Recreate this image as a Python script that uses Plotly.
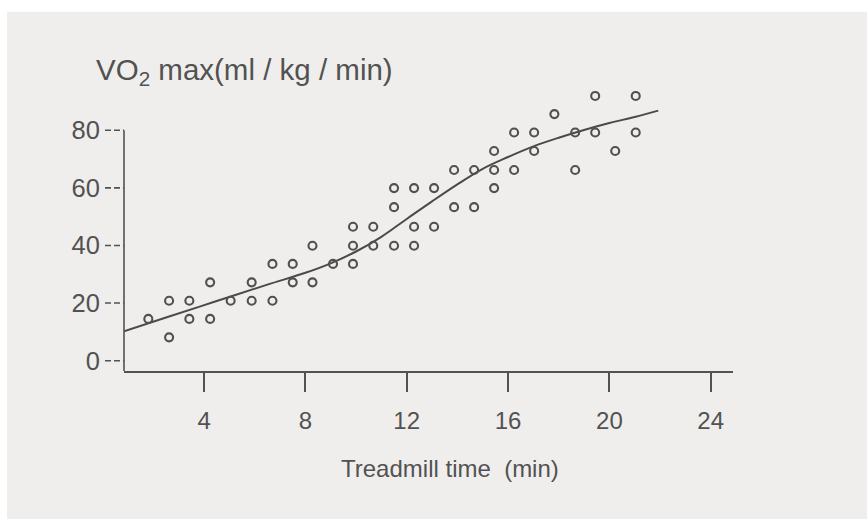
import plotly.graph_objects as go

# Observed treadmill time (min) and VO2 max (ml/kg/min), one entry per subject
time_min = [1.80,
            2.62, 2.62,
            3.42, 3.42,
            4.24, 4.24,
            5.05,
            5.88, 5.88,
            6.70, 6.70,
            7.50, 7.50,
            8.28, 8.28,
            9.09,
            9.88, 9.88, 9.88,
            10.68, 10.68,
            11.50, 11.50, 11.50,
            12.29, 12.29, 12.29,
            13.08, 13.08,
            13.87, 13.87,
            14.66, 14.66,
            15.45, 15.45, 15.45,
            16.24, 16.24,
            17.03, 17.03,
            17.83,
            18.65, 18.65,
            19.44, 19.44,
            20.23,
            21.04, 21.04]
vo2max = [14.5,
          20.8, 8.1,
          20.8, 14.5,
          27.2, 14.5,
          20.8,
          27.2, 20.8,
          33.6, 20.8,
          33.6, 27.2,
          39.9, 27.2,
          33.6,
          46.5, 39.9, 33.6,
          46.5, 39.9,
          59.9, 53.3, 39.9,
          59.9, 46.5, 39.9,
          59.9, 46.5,
          66.2, 53.3,
          66.2, 53.3,
          72.8, 66.2, 59.9,
          79.2, 66.2,
          79.2, 72.8,
          85.6,
          79.2, 66.2,
          91.9, 79.2,
          72.8,
          91.9, 79.2]

# Smoothed trend curve
trend_x = [0.84, 2.5, 4.5, 6.5, 8.0, 9.0, 10.0, 11.0, 12.0, 13.0, 14.0,
           15.0, 16.0, 17.0, 18.0, 19.0, 20.0, 21.0, 21.93]
trend_y = [10.2, 15.0, 20.7, 26.4, 30.5, 33.8, 37.9, 43.0, 49.2, 55.3, 61.2,
           66.6, 70.7, 74.4, 77.4, 80.1, 82.5, 84.6, 86.8]

x_ticks = [4, 8, 12, 16, 20, 24]
y_ticks = [0, 20, 40, 60, 80]

X_RANGE = [0.84, 24.88]
Y_RANGE = [-3.58, 95]
INK = "#525252"
PAPER = "#efeeec"
FONT = "Liberation Sans, Arial, sans-serif"

W, H = 867, 519
L, R, T, B = 124, 134, 87.1, 148

fig = go.Figure()

fig.add_trace(go.Scatter(
    x=trend_x, y=trend_y, mode="lines", line_shape="spline",
    line=dict(color="#4a4a4a", width=2, smoothing=1.0),
    hoverinfo="skip", showlegend=False,
))
fig.add_trace(go.Scatter(
    x=time_min, y=vo2max, mode="markers", cliponaxis=False,
    marker=dict(symbol="circle-open", size=8, color="#505050",
                line=dict(width=2.1, color="#505050")),
    showlegend=False,
))

pw = W - L - R
ph = H - T - B


def px_to_paper_x(px):
    return (px - L) / pw


def px_to_paper_y(py):
    return (H - B - py) / ph


shapes = [
    # white scan margins along the top and left edges
    dict(type="rect", xref="paper", yref="paper", layer="below",
         x0=px_to_paper_x(0), x1=px_to_paper_x(W),
         y0=px_to_paper_y(12), y1=px_to_paper_y(0),
         fillcolor="white", line=dict(width=0)),
    dict(type="rect", xref="paper", yref="paper", layer="below",
         x0=px_to_paper_x(0), x1=px_to_paper_x(7),
         y0=px_to_paper_y(H), y1=px_to_paper_y(0),
         fillcolor="white", line=dict(width=0)),
    # vertical axis line, ending at the top tick
    dict(type="line", xref="paper", yref="y", x0=0, x1=0,
         y0=Y_RANGE[0], y1=80, line=dict(color=INK, width=1.6)),
]
# dashed tick marks on the vertical axis
for v in y_ticks:
    shapes.append(dict(type="line", xref="paper", yref="y",
                       x0=px_to_paper_x(105), x1=0, y0=v, y1=v,
                       line=dict(color=INK, width=1.6, dash="6px,3px")))

annotations = [
    dict(text="VO<sub>2</sub> max(ml / kg / min)", xref="paper", yref="paper",
         x=px_to_paper_x(94), y=px_to_paper_y(72), xanchor="left",
         yanchor="middle", showarrow=False,
         font=dict(family=FONT, size=29.5, color=INK)),
    dict(text="Treadmill time  (min)", xref="paper", yref="paper",
         x=px_to_paper_x(450), y=px_to_paper_y(468), xanchor="center",
         yanchor="middle", showarrow=False,
         font=dict(family=FONT, size=24, color=INK)),
]

fig.update_layout(
    width=W, height=H,
    margin=dict(l=L, r=R, t=T, b=B, pad=0),
    paper_bgcolor=PAPER, plot_bgcolor="rgba(0,0,0,0)",
    shapes=shapes, annotations=annotations,
    xaxis=dict(range=X_RANGE, tickvals=x_ticks, ticks="outside", ticklen=19,
               tickwidth=1.6, tickcolor=INK, showline=True, linewidth=1.6,
               linecolor=INK, showgrid=False, zeroline=False,
               ticklabelstandoff=8,
               tickfont=dict(family=FONT, size=24, color=INK)),
    yaxis=dict(range=Y_RANGE, tickvals=y_ticks, ticks="outside", ticklen=18,
               tickcolor="rgba(0,0,0,0)", showline=False, showgrid=False,
               zeroline=False, ticklabelstandoff=0,
               tickfont=dict(family=FONT, size=25.5, color=INK)),
    hovermode=False,
)

fig.write_html("out.html")
